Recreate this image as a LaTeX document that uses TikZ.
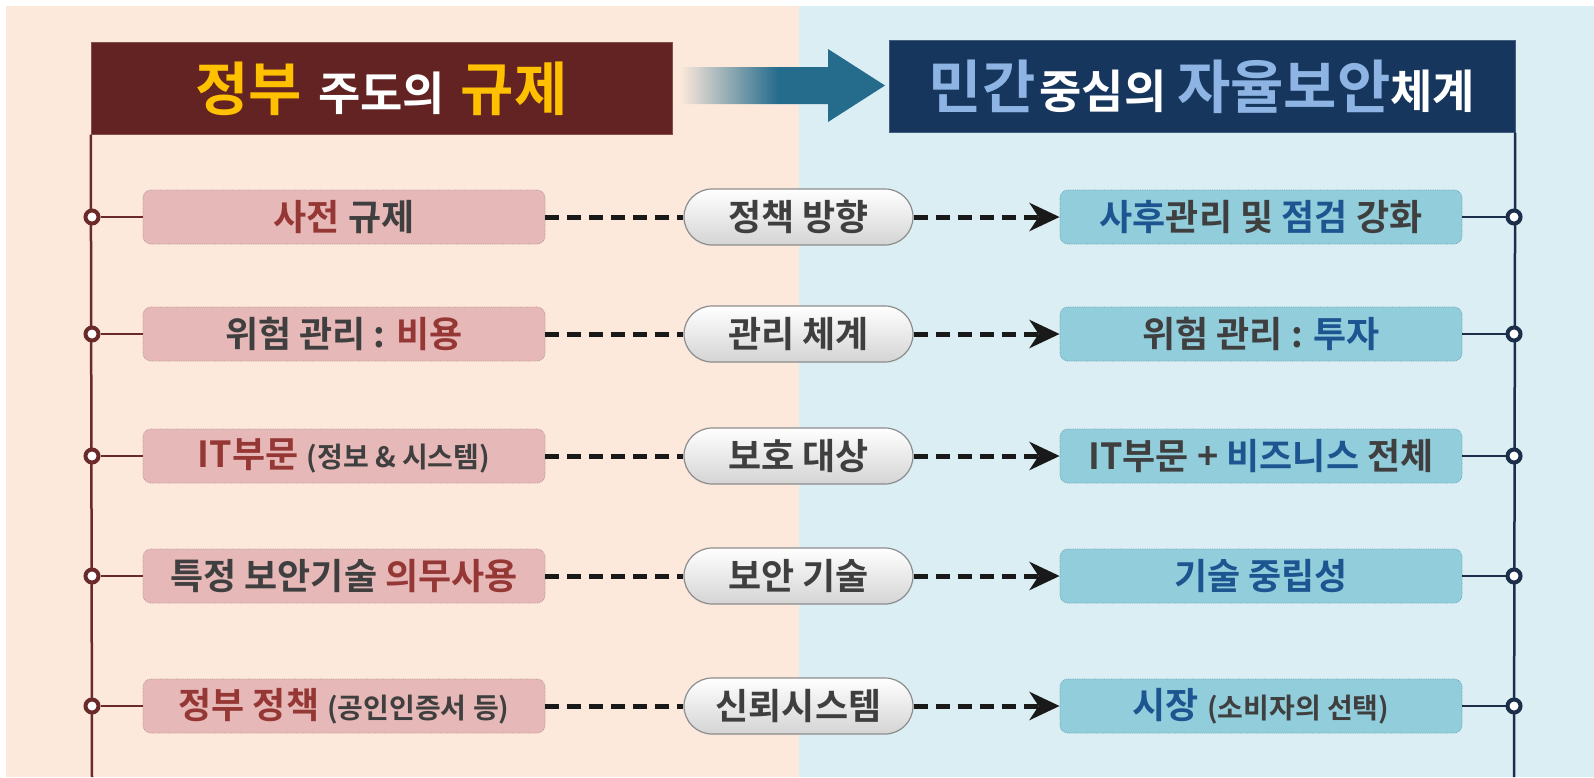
\documentclass[tikz,border=0pt]{standalone}
\usepackage{fontspec}
\setmainfont{Noto Sans CJK KR}[BoldFont={Noto Sans CJK KR Bold}]
\usetikzlibrary{arrows.meta}

\definecolor{peach}{HTML}{FDE9DB}
\definecolor{skyback}{HTML}{DBEEF4}
\definecolor{maroon}{HTML}{632323}
\definecolor{navy}{HTML}{17365D}
\definecolor{tyellow}{HTML}{FFC000}
\definecolor{tblue}{HTML}{8EB4E3}
\definecolor{arrowteal}{HTML}{246B8C}
\definecolor{wordred}{HTML}{953735}
\definecolor{wordgray}{HTML}{3F3F3F}
\definecolor{wordblue}{HTML}{1C5590}
\definecolor{pinkbox}{HTML}{E6B8B7}
\definecolor{pinkline}{HTML}{B79A9A}
\definecolor{bluebox}{HTML}{92CDDC}
\definecolor{blueline}{HTML}{6AA6B8}
\definecolor{pillgray}{HTML}{D4D4D4}
\definecolor{leftwire}{HTML}{6B2A2A}
\definecolor{rightwire}{HTML}{1B2E4A}

\pgfdeclarehorizontalshading{fadeteal}{100bp}{color(0bp)=(peach); color(25bp)=(peach); color(49bp)=(arrowteal); color(100bp)=(arrowteal)}

\newcommand{\bigword}[2]{{\fontsize{58}{64}\selectfont\textcolor{#1}{#2}}}
\newcommand{\redw}[1]{\textcolor{wordred}{#1}}
\newcommand{\bluew}[1]{\textcolor{wordblue}{#1}}
\newcommand{\subtxt}[1]{{\fontsize{28}{32}\selectfont #1}}

\begin{document}
\begin{tikzpicture}[
  x = 1pt, y = -1pt,
  head box/.style = {minimum height = 92pt, inner sep = 0pt, text = white,
                     font = \bfseries\fontsize{46}{52}\selectfont},
  row box/.style = {rounded corners = 8pt, minimum width = 402pt, minimum height = 54pt,
                    inner sep = 0pt, densely dotted, line width = 0.8pt, text = wordgray,
                    font = \bfseries\fontsize{36}{40}\selectfont},
  left box/.style = {row box, fill = pinkbox, draw = pinkline},
  right box/.style = {row box, fill = bluebox, draw = blueline},
  pill/.style = {rounded corners = 28pt, minimum width = 229pt, minimum height = 56pt,
                 top color = white, bottom color = pillgray, draw = black!45, line width = 1.2pt,
                 text = wordgray, font = \bfseries\fontsize{36}{40}\selectfont},
  left dot/.style = {circle, draw = leftwire, line width = 4pt, fill = white,
                     minimum size = 13pt, inner sep = 0pt},
  right dot/.style = {left dot, draw = rightwire},
  left tie/.style = {draw = leftwire, line width = 2.5pt},
  right tie/.style = {draw = rightwire, line width = 2.5pt},
  link/.style = {line width = 5pt, dash pattern = on 14pt off 8pt, draw = black!90},
  to box/.style = {link, -{Stealth[length = 30pt, width = 28pt, inset = 9pt]}},
  ]
  \useasboundingbox (0,0) rectangle (1594,777);
  \fill[white] (0,0) rectangle (1594,777);
  \fill[peach] (6,6) rectangle (799,777);
  \fill[skyback] (799,6) rectangle (1594,777);

  \node[head box, fill = maroon, draw = maroon!80!white, minimum width = 581pt] (ltitle) at (381.5,88.5)
    {\bigword{tyellow}{정부}\hspace{16pt}주도의\hspace{16pt}\bigword{tyellow}{규제}};
  \node[head box, fill = navy, draw = navy!80!white, minimum width = 626pt] (rtitle) at (1202,86.5)
    {\bigword{tblue}{민간}\hspace{4pt}중심의 \bigword{tblue}{자율보안}체계};
  \shade[shading = fadeteal] (680,67) -- (828,67) -- (828,49) -- (885,85.5) -- (828,122)
    -- (828,104) -- (680,104) -- cycle;

  \coordinate (lbot) at (92,777);
  \coordinate (rbot) at (1514,777);
  \draw[left tie] (ltitle.south west) -- (lbot);
  \draw[right tie] (rtitle.south east) -- (rbot);

  \node[left dot] (dl1) at (92,217) {};
  \node[left dot] (dl2) at (92,334) {};
  \node[left dot] (dl3) at (92,456) {};
  \node[left dot] (dl4) at (92,576) {};
  \node[left dot] (dl5) at (92,706) {};
  \node[right dot] (dr1) at (1514,217) {};
  \node[right dot] (dr2) at (1514,334) {};
  \node[right dot] (dr3) at (1514,456) {};
  \node[right dot] (dr4) at (1514,576) {};
  \node[right dot] (dr5) at (1514,706) {};

  \node[left box] (l1) at (344,217) {\redw{사전} 규제};
  \node[left box] (l2) at (344,334) {위험 관리 : \redw{비용}};
  \node[left box] (l3) at (344,456) {\redw{IT부문} \subtxt{(정보 \& 시스템)}};
  \node[left box] (l4) at (344,576) {특정 보안기술 \redw{의무사용}};
  \node[left box] (l5) at (344,706) {\redw{정부 정책} \subtxt{(공인인증서 등)}};

  \node[pill] (p1) at (798.5,217) {정책 방향};
  \node[pill] (p2) at (798.5,334) {관리 체계};
  \node[pill] (p3) at (798.5,456) {보호 대상};
  \node[pill] (p4) at (798.5,576) {보안 기술};
  \node[pill] (p5) at (798.5,706) {신뢰시스템};

  \node[right box] (r1) at (1261,217) {\bluew{사후}관리 및 \bluew{점검} 강화};
  \node[right box] (r2) at (1261,334) {위험 관리 : \bluew{투자}};
  \node[right box] (r3) at (1261,456) {IT부문 + \bluew{비즈니스} 전체};
  \node[right box] (r4) at (1261,576) {\bluew{기술 중립성}};
  \node[right box] (r5) at (1261,706) {\bluew{시장} \subtxt{(소비자의 선택)}};

  \draw[left tie] (dl1) -- (l1);
  \draw[left tie] (dl2) -- (l2);
  \draw[left tie] (dl3) -- (l3);
  \draw[left tie] (dl4) -- (l4);
  \draw[left tie] (dl5) -- (l5);
  \draw[link] (l1) -- (p1);
  \draw[link] (l2) -- (p2);
  \draw[link] (l3) -- (p3);
  \draw[link] (l4) -- (p4);
  \draw[link] (l5) -- (p5);
  \draw[to box] (p1) -- (r1);
  \draw[to box] (p2) -- (r2);
  \draw[to box] (p3) -- (r3);
  \draw[to box] (p4) -- (r4);
  \draw[to box] (p5) -- (r5);
  \draw[right tie] (r1) -- (dr1);
  \draw[right tie] (r2) -- (dr2);
  \draw[right tie] (r3) -- (dr3);
  \draw[right tie] (r4) -- (dr4);
  \draw[right tie] (r5) -- (dr5);
\end{tikzpicture}
\end{document}
